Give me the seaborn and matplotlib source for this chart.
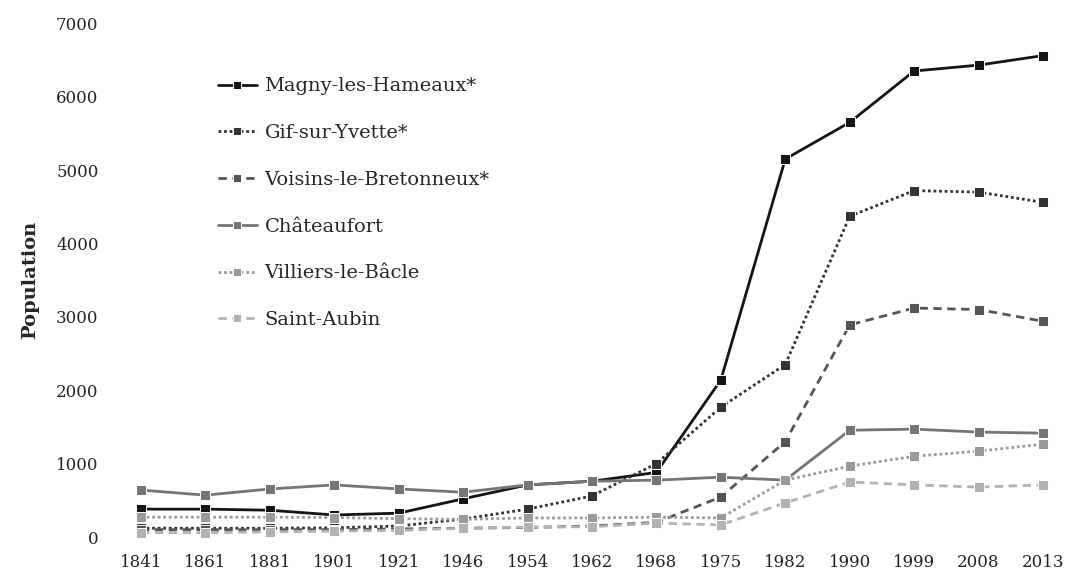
import seaborn as sns
import matplotlib.pyplot as plt
import numpy as np

# Années (axe catégoriel)
annees = ['1841', '1861', '1881', '1901', '1921', '1946', '1954', '1962',
          '1968', '1975', '1982', '1990', '1999', '2008', '2013']

# Populations
magny = [380, 380, 365, 300, 325, 520, 710, 760, 880, 2140, 5150, 5650, 6350, 6430, 6560]
gif = [120, 120, 120, 125, 150, 245, 380, 560, 1000, 1770, 2350, 4370, 4720, 4700, 4560]
voisins = [100, 100, 100, 100, 110, 120, 130, 150, 200, 545, 1300, 2890, 3120, 3100, 2940]
chateaufort = [640, 570, 655, 710, 655, 610, 710, 760, 775, 815, 775, 1455, 1470, 1430, 1415]
villiers = [270, 270, 270, 265, 250, 240, 260, 260, 270, 260, 775, 965, 1100, 1170, 1265]
saint_aubin = [60, 60, 70, 80, 90, 120, 135, 140, 190, 165, 465, 750, 710, 680, 710]

communes = ['Magny-les-Hameaux*', 'Gif-sur-Yvette*', 'Voisins-le-Bretonneux*',
            'Châteaufort', 'Villiers-le-Bâcle', 'Saint-Aubin']
series = [magny, gif, voisins, chateaufort, villiers, saint_aubin]
couleurs = ['#151515', '#333333', '#555555', '#757575', '#9a9a9a', '#b2b2b2']
styles = ['-', (0, (1, 1)), (0, (3, 2)), '-', (0, (1, 1)), (0, (3, 2))]

sns.set_style('white')
plt.rcParams['font.family'] = ['DejaVu Serif']

fig = plt.figure(figsize=(10.71, 5.70), dpi=100)
ax = fig.add_axes([0.1076, 0.045, 0.8873, 0.927])

x = np.arange(len(annees))
for nom, vals, c, ls in zip(communes, series, couleurs, styles):
    sns.lineplot(x=x, y=vals, ax=ax, color=c, linestyle=ls, linewidth=2.0,
                 marker='s', markersize=6.8, markeredgecolor='white',
                 markeredgewidth=0.7, label=nom)

ax.set_xlim(-0.4, 14.35)
ax.set_ylim(-100, 7100)
ax.set_xticks(x)
ax.set_xticklabels(annees)
ax.set_yticks(range(0, 7001, 1000))
ax.tick_params(axis='both', length=0, labelsize=12, colors='#222222')
ax.tick_params(axis='x', pad=7)
ax.tick_params(axis='y', pad=12)
for s in ax.spines.values():
    s.set_visible(False)
ax.set_ylabel('Population', fontsize=14, fontweight='bold', labelpad=12)

leg = ax.legend(loc='upper left', bbox_to_anchor=(0.187, 0.895), bbox_transform=fig.transFigure,
                frameon=False, fontsize=14, handlelength=2.0, labelspacing=1.48,
                handletextpad=0.4, markerscale=0.75)

plt.savefig('out.png', dpi=100)
